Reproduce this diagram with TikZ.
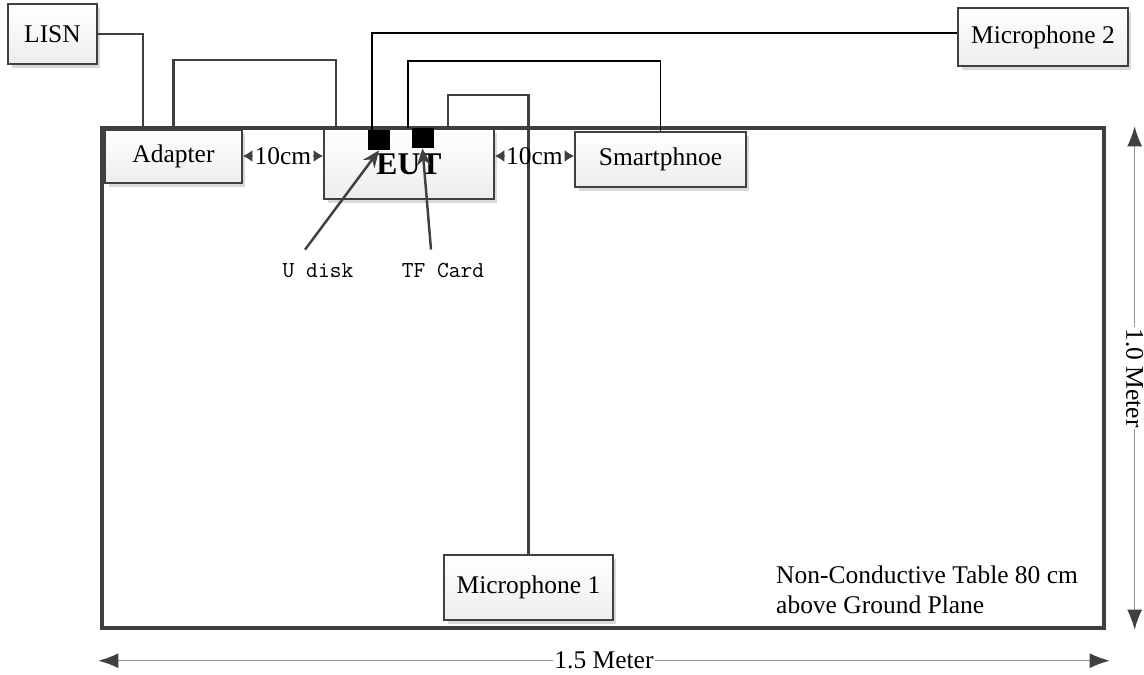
\documentclass[tikz,border=0pt]{standalone}
\usepackage{fontspec}
\setmainfont{Liberation Serif}
\usepackage{tikz}
\usetikzlibrary{calc,shadows,arrows.meta}
\definecolor{linegray}{RGB}{64,64,64}
\definecolor{rulegray}{RGB}{150,150,150}

\tikzset{
  unit/.style={draw=linegray, line width=1.1pt, top color=white, bottom color=gray!14,
    drop shadow={shadow xshift=0.07cm, shadow yshift=-0.07cm, fill=gray!30, opacity=1}},
  port/.style={fill=black, minimum width=0.44cm, minimum height=0.4cm, inner sep=0pt},
  cable/.style={draw=linegray, line width=1.4pt},
  wire/.style={draw=black, line width=1pt},
  pointer/.style={draw=linegray, line width=1.4pt, -{Stealth[length=0.34cm,width=0.28cm]}},
  gaptip/.style={draw=rulegray, line width=0.6pt, -{Latex[length=0.19cm,width=0.24cm,color=linegray]}},
  dimline/.style={draw=rulegray, line width=0.7pt, {Latex[length=0.4cm,width=0.3cm,color=linegray]}-{Latex[length=0.4cm,width=0.3cm,color=linegray]}}
}

\begin{document}
\begin{tikzpicture}[x=0.02cm, y=-0.02cm, font=\fontsize{14.5}{17}\selectfont]
\useasboundingbox (0,0) rectangle (1144,674);

\node[draw=linegray, line width=2pt, minimum width=20.04cm, minimum height=10cm] (table) at (603,378) {};

\node[unit, minimum width=1.78cm, minimum height=1.2cm] (lisn) at (52.5,34) {LISN};
\node[unit, minimum width=2.74cm, minimum height=1.06cm] (adapter) at (173.5,156.5) {Adapter};
\node[unit, minimum width=3.4cm, minimum height=1.4cm, font=\fontsize{18}{20}\selectfont\bfseries] (eut) at (409,164) {EUT};
\node[unit, minimum width=3.42cm, minimum height=1.1cm] (smart) at (660.5,159.5) {Smartphnoe};
\node[unit, minimum width=3.4cm, minimum height=1.16cm] (mic2) at (1043,37) {Microphone 2};
\node[unit, minimum width=3.38cm, minimum height=1.3cm] (mic1) at (528.5,587.5) {Microphone 1};

\node[port] (udisk) at (379,140) {};
\node[port] (tf) at (422.5,138) {};

\draw[cable] (lisn.east) -| ([xshift=-0.61cm]adapter.north);
\draw[cable] (adapter.north) -- (adapter.north |- 0,60) -| ([xshift=-1.46cm]eut.north);
\draw[wire] ([yshift=0.08cm]mic2.west) -| ([xshift=-0.14cm]udisk.north);
\draw[wire] (smart.north) -- (smart.north |- 0,61) -| ([xshift=-0.06cm]tf.north west);
\draw[cable] (mic1.north) -- (mic1.north |- 0,95) -| ([xshift=0.78cm]eut.north);

\node[inner sep=1pt] (gapa) at (283,156) {10cm};
\draw[gaptip] (gapa.west) -- (gapa.west -| adapter.east);
\draw[gaptip] (gapa.east) -- (gapa.east -| eut.west);
\node[inner sep=1pt] (gapb) at (534.5,156) {10cm};
\draw[gaptip] (gapb.west) -- (gapb.west -| eut.east);
\draw[gaptip] (gapb.east) -- (gapb.east -| smart.west);

\node[font=\ttfamily\fontsize{13}{15}\selectfont] (udisklbl) at (318,271) {U disk};
\node[font=\ttfamily\fontsize{13}{15}\selectfont] (tflbl) at (443,271) {TF Card};
\draw[pointer] ([xshift=-0.26cm,yshift=0.16cm]udisklbl.north) -- (udisk.south);
\draw[pointer] ([xshift=-0.24cm,yshift=0.16cm]tflbl.north) -- (tf.south);

\node[anchor=west, align=left] (tablenote) at (770,590) {Non-Conductive Table 80 cm\\above Ground Plane};

\draw[dimline] ($(table.south west)+(-2,31)$) -- ($(table.south east)+(4,31)$)
  node[midway, fill=white, inner sep=1pt] {1.5 Meter};
\draw[dimline] ($(table.north east)+(29,0)$) -- ($(table.south east)+(29,0)$)
  node[midway, fill=white, inner sep=1pt, rotate=-90] {1.0 Meter};
\end{tikzpicture}
\end{document}
